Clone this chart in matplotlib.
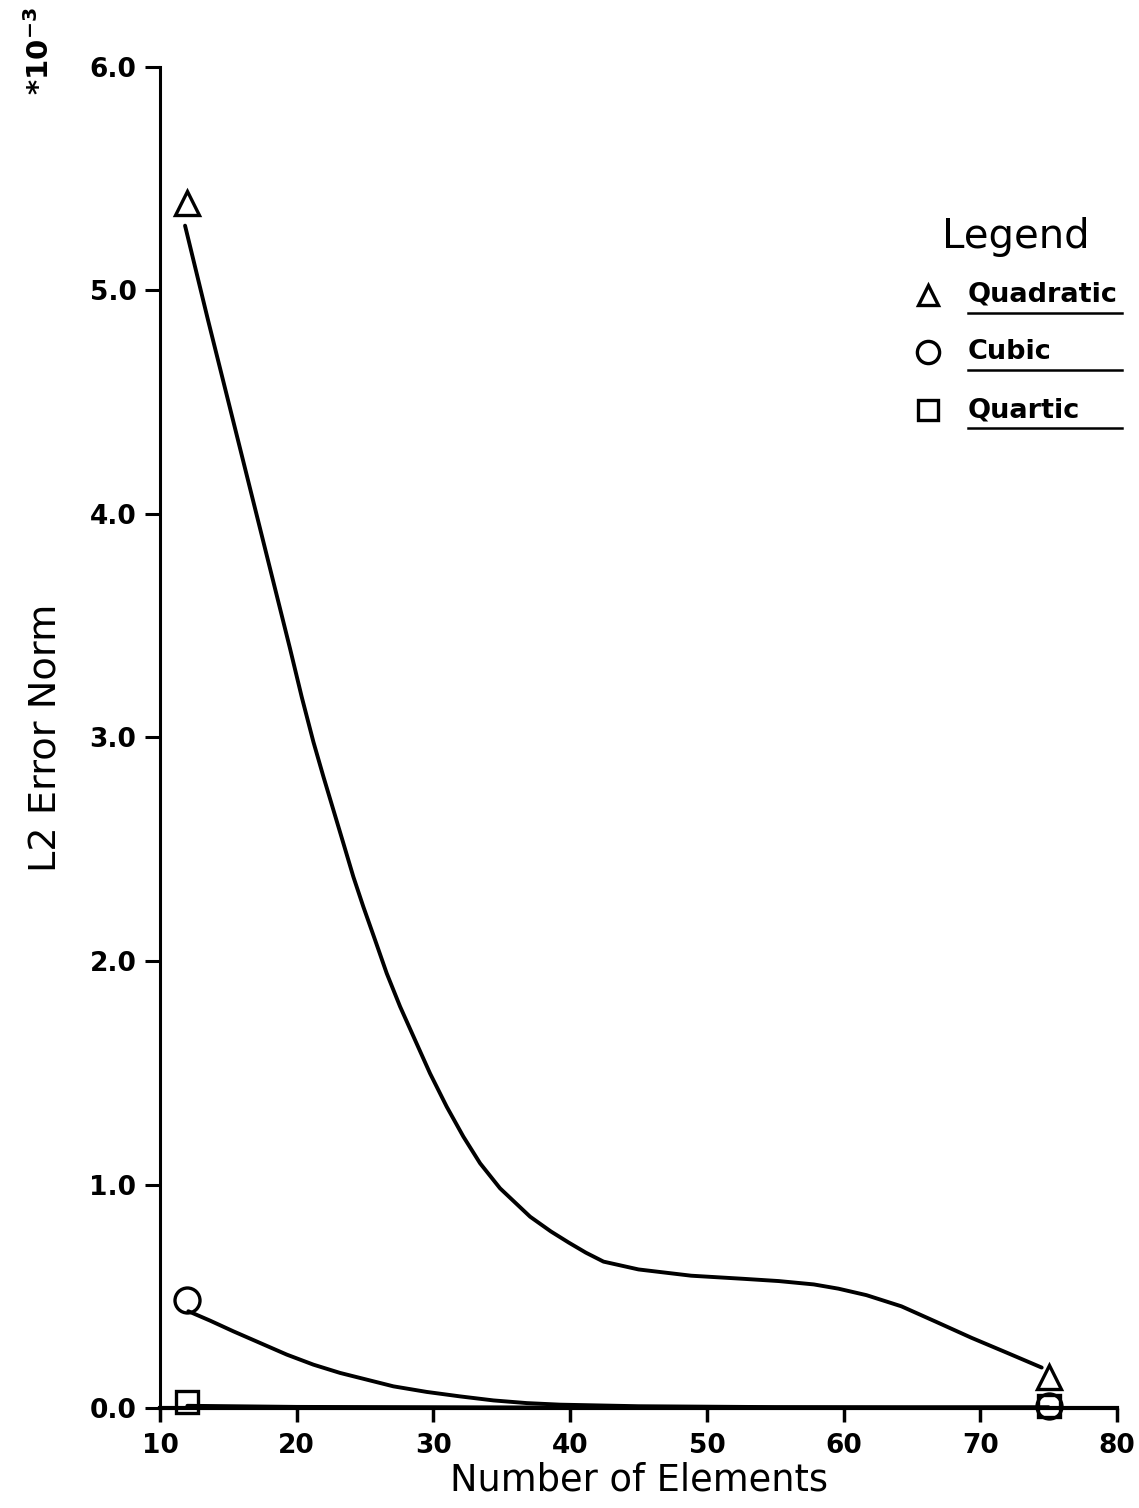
import numpy as np
import matplotlib
matplotlib.use("Agg")
from matplotlib import pyplot as plt

# curve points (values in units of 1e-3)
quad_x = [11.83, 13.5, 15.5, 17.5, 19.5, 20.37, 21.22, 21.95, 22.68, 23.41,
          24.14, 24.87, 25.73, 26.58, 27.56, 28.65, 29.75, 30.97, 32.19, 33.41,
          34.87, 37.07, 38.59, 39.9, 41.15, 42.44, 45.0, 48.85, 52.69, 55.26,
          57.82, 59.62, 61.67, 64.23, 66.79, 69.36, 71.92, 74.49]
quad_y = [5.29, 4.87, 4.38, 3.89, 3.40, 3.18, 2.98, 2.825, 2.676, 2.527,
          2.377, 2.243, 2.094, 1.945, 1.796, 1.647, 1.497, 1.348, 1.214, 1.095,
          0.983, 0.856, 0.79, 0.74, 0.695, 0.655, 0.62, 0.592, 0.578, 0.568,
          0.553, 0.534, 0.505, 0.455, 0.385, 0.314, 0.248, 0.181]

cubic_x = [12.07, 13.66, 15.37, 17.32, 19.27, 21.22, 23.17, 25.12, 27.07,
           29.51, 31.95, 34.39, 36.83, 39.27, 45.0, 55.0, 65.0, 75.0]
cubic_y = [0.433, 0.391, 0.343, 0.291, 0.239, 0.194, 0.157, 0.127, 0.097,
           0.072, 0.052, 0.034, 0.022, 0.015, 0.008, 0.004, 0.003, 0.003]

quart_x = [12.0, 20.0, 40.0, 75.0]
quart_y = [0.01, 0.005, 0.002, 0.002]

# data points (markers)
elems = [12, 75]
quad_pts = [5.39, 0.14]
cubic_pts = [0.485, 0.01]
quart_pts = [0.025, 0.01]

names = ['Quadratic', 'Cubic', 'Quartic']
marks = ['^', 'o', 's']
msizes = [17, 18, 16]

xticks = [10, 20, 30, 40, 50, 60, 70, 80]
yticks = [0.0, 1.0, 2.0, 3.0, 4.0, 5.0, 6.0]

fig = plt.figure(figsize=(11.39, 15.08), dpi=100)
ax = fig.add_axes([0.1405, 0.0663, 0.8402, 0.8893])

lw = 2.8
ax.plot(quad_x, quad_y, color='black', lw=lw, solid_capstyle='round', solid_joinstyle='round')
ax.plot(cubic_x, cubic_y, color='black', lw=lw, solid_capstyle='round', solid_joinstyle='round')
ax.plot(quart_x, quart_y, color='black', lw=lw, solid_capstyle='round')

for pts, m, ms in zip([quad_pts, cubic_pts, quart_pts], marks, msizes):
    ax.plot(elems, pts, linestyle='none', marker=m, ms=ms, mfc='none',
            mec='black', mew=2.4, clip_on=False)

ax.set_xlim(10, 80)
ax.set_ylim(0, 6.0)
ax.set_xticks(xticks)
ax.set_yticks(yticks)
ax.set_xticklabels([str(t) for t in xticks], fontsize=19, fontweight='bold')
ax.set_yticklabels(['%.1f' % t for t in yticks], fontsize=19, fontweight='bold')
ax.tick_params(axis='x', direction='out', length=10, width=2.5, pad=8)
ax.tick_params(axis='y', direction='out', length=11, width=2.2, pad=6)

for s in ['top', 'right']:
    ax.spines[s].set_visible(False)
ax.spines['left'].set_linewidth(2.2)
ax.spines['bottom'].set_linewidth(3)

ax.set_xlabel('Number of Elements', fontsize=26.5, labelpad=2)
ax.set_ylabel('L2 Error Norm', fontsize=27.5, labelpad=18)

fig.text(0.035, 0.966, r'$\mathbf{*10^{-3}}$', rotation=90, fontsize=21,
         ha='center', va='center')

# hand-drawn legend like the original
ax.text(0.894, 0.873, 'Legend', transform=ax.transAxes, fontsize=29,
        ha='center', va='center')
rows = [0.830, 0.7875, 0.744]
for name, m, ms, ry in zip(names, marks, msizes, rows):
    ax.plot([0.8025], [ry], transform=ax.transAxes, marker=m, ms=ms - 2,
            mfc='none', mec='black', mew=2.4, linestyle='none', clip_on=False)
    ax.text(0.844, ry, name, transform=ax.transAxes, fontsize=19.5,
            fontweight='bold', ha='left', va='center')
    ax.plot([0.844, 1.005], [ry - 0.0134, ry - 0.0134], transform=ax.transAxes,
            color='black', lw=1.8, clip_on=False)

fig.savefig('out.png', dpi=100)
